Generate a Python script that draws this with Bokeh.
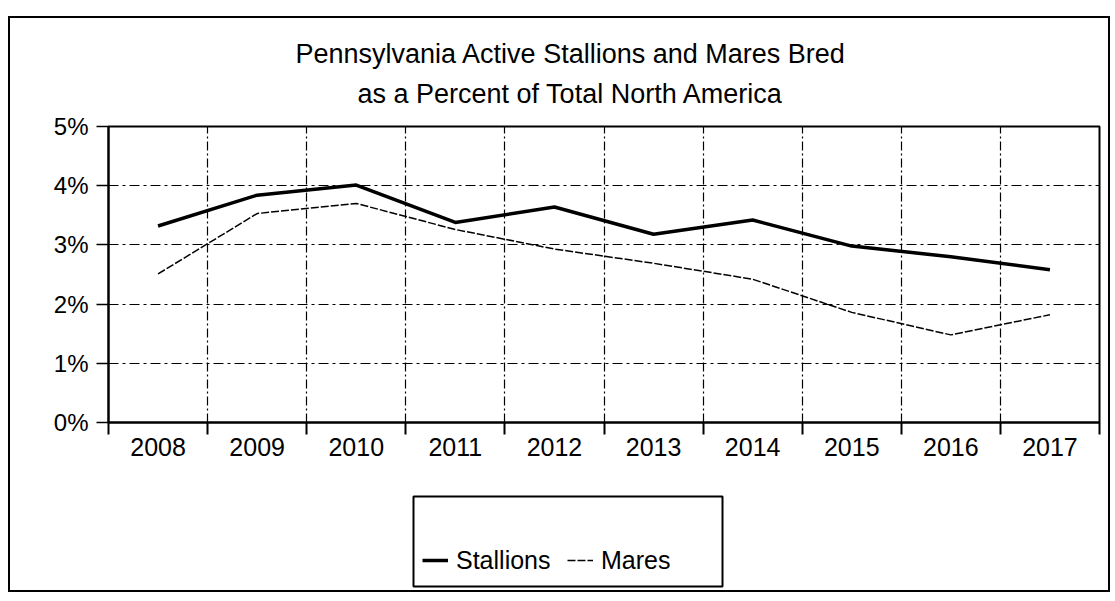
from bokeh.plotting import figure
from bokeh.layouts import column
from bokeh.models import Range1d, FixedTicker, Legend, LegendItem, Title
from bokeh.embed import file_html
from bokeh.resources import INLINE

# ---- data ----
years = ["2008", "2009", "2010", "2011", "2012", "2013", "2014", "2015", "2016", "2017"]
stallions = [3.32, 3.84, 4.01, 3.38, 3.64, 3.18, 3.42, 2.98, 2.80, 2.58]
mares = [2.51, 3.53, 3.70, 3.26, 2.93, 2.69, 2.42, 1.86, 1.48, 1.82]
y_ticks = [0, 1, 2, 3, 4, 5]
y_tick_labels = ["0%", "1%", "2%", "3%", "4%", "5%"]
title_lines = ["Pennsylvania Active Stallions and Mares Bred",
               "as a Percent of Total North America"]
legend_labels = ["Stallions", "Mares"]

FONT = "Liberation Sans"
n = len(years)
xs = [i + 0.5 for i in range(n)]

ST_STYLE = dict(line_color="black", line_width=3.5, line_join="round")
MA_STYLE = dict(line_color="black", line_width=1.5, line_dash="8 2", line_join="round")

# ---------------- main chart ----------------
p = figure(width=1098, height=470, output_backend="svg", toolbar_location=None,
           x_range=Range1d(0, n), y_range=Range1d(y_ticks[0], y_ticks[-1]),
           min_border_left=98, min_border_right=9,
           min_border_top=108, min_border_bottom=66)
p.background_fill_color = "white"
p.border_fill_color = "white"
p.outline_line_color = "black"
p.outline_line_width = 2

# grids
p.xgrid.ticker = FixedTicker(ticks=list(range(1, n)))
p.ygrid.ticker = FixedTicker(ticks=y_ticks[1:-1])
p.xgrid.grid_line_color = "black"
p.xgrid.grid_line_width = 1.2
p.xgrid.grid_line_dash = "9 3 2 3"
p.ygrid.grid_line_color = "black"
p.ygrid.grid_line_width = 1.2
p.ygrid.grid_line_dash = "10 4 3 4"

# x axis
xa = p.xaxis[0]
xa.ticker = FixedTicker(ticks=xs, minor_ticks=list(range(0, n + 1)))
xa.major_label_overrides = {x: y for x, y in zip(xs, years)}
xa.major_tick_line_color = None
xa.major_tick_out = 0
xa.major_tick_in = 0
xa.minor_tick_line_color = "black"
xa.minor_tick_line_width = 2
xa.minor_tick_out = 12
xa.minor_tick_in = 0
xa.axis_line_color = "black"
xa.axis_line_width = 2
xa.major_label_standoff = 3
xa.major_label_text_font = FONT
xa.major_label_text_font_size = "25px"
xa.major_label_text_color = "black"

# y axis
ya = p.yaxis[0]
ya.ticker = FixedTicker(ticks=y_ticks, minor_ticks=[])
ya.major_label_overrides = {t: s for t, s in zip(y_ticks, y_tick_labels)}
ya.major_tick_line_color = "black"
ya.major_tick_line_width = 1.5
ya.major_tick_out = 12
ya.major_tick_in = 0
ya.minor_tick_line_color = None
ya.axis_line_color = "black"
ya.axis_line_width = 2
ya.major_label_standoff = 8
ya.major_label_text_font = FONT
ya.major_label_text_font_size = "24px"
ya.major_label_text_color = "black"

# series
p.line(xs, stallions, **ST_STYLE)
p.line(xs, mares, **MA_STYLE)

# title (two lines), placed in the "above" panel
t2 = Title(text=title_lines[1], align="left", offset=249, standoff=36,
           text_font=FONT, text_font_size="27px", text_font_style="normal",
           text_color="black")
t1 = Title(text=title_lines[0], align="left", offset=187, standoff=-20,
           text_font=FONT, text_font_size="27px", text_font_style="normal",
           text_color="black")
p.add_layout(t2, "above")
p.add_layout(t1, "above")

# ---------------- legend box (separate small figure) ----------------
lf = figure(width=416, height=94, output_backend="svg", toolbar_location=None,
            x_axis_location=None, y_axis_location=None,
            min_border_left=98, min_border_right=9,
            min_border_top=2, min_border_bottom=2)
lf.xgrid.visible = False
lf.ygrid.visible = False
lf.outline_line_color = "black"
lf.outline_line_width = 2
lf.background_fill_color = "white"
lf.border_fill_color = "white"
lf.margin = (6, 0, 2, 305)
# the same series, hidden: they only feed the legend samples
l_st = lf.line(xs, stallions, visible=False, **ST_STYLE)
l_ma = lf.line(xs, mares, visible=False, **MA_STYLE)
legend = Legend(items=[LegendItem(label=legend_labels[0], renderers=[l_st]),
                       LegendItem(label=legend_labels[1], renderers=[l_ma])],
                orientation="horizontal", location="bottom_left", margin=9)
legend.label_text_font = FONT
legend.label_text_font_size = "25px"
legend.label_text_color = "black"
legend.glyph_width = 26
legend.glyph_height = 34
legend.label_height = 34
legend.label_standoff = 8
legend.label_width = 111
legend.spacing = 0
legend.padding = 0
legend.border_line_color = None
legend.background_fill_alpha = 0
legend.inactive_fill_alpha = 0
lf.add_layout(legend)

layout = column(p, lf)
layout.margin = (16, 0, 0, 8)
layout.styles = {"border": "2px solid black"}

open("out.html", "w").write(file_html(layout, INLINE))
